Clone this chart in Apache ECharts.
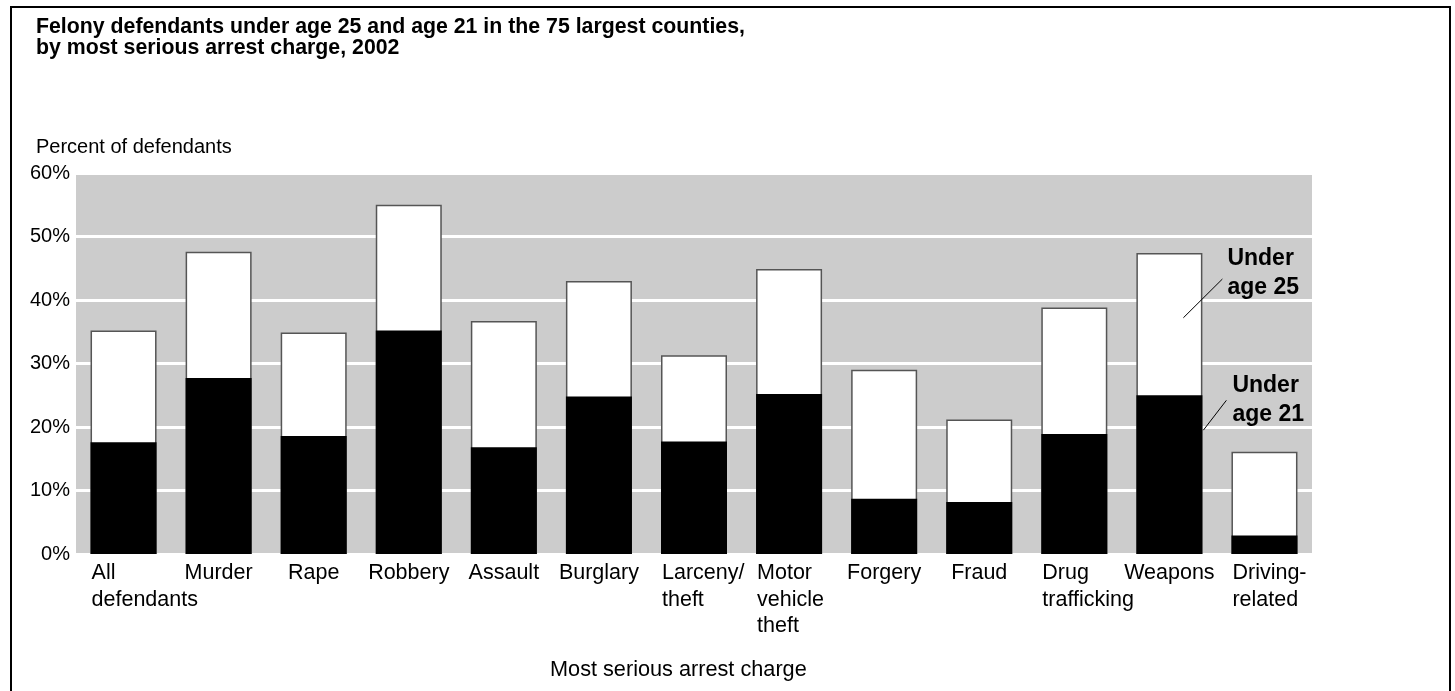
<!DOCTYPE html>
<html>
<head>
<meta charset="utf-8">
<script src="https://cdn.jsdelivr.net/npm/echarts@6/dist/echarts.min.js"></script>
<style>
html,body{margin:0;padding:0;background:#fff;}
#chart{width:1455px;height:691px;}
</style>
</head>
<body>
<div id="chart"></div>
<script>
const categories = ['All\ndefendants', 'Murder', 'Rape', 'Robbery', 'Assault', 'Burglary', 'Larceny/\ntheft', 'Motor\nvehicle\ntheft', 'Forgery', 'Fraud', 'Drug\ntrafficking', 'Weapons', 'Driving-\nrelated'];
const under25 = [35.2, 47.6, 34.9, 55.0, 36.7, 43.0, 31.3, 44.9, 29.0, 21.2, 38.8, 47.4, 16.1];
const under21 = [17.6, 27.7, 18.6, 35.2, 16.8, 24.8, 17.7, 25.2, 8.7, 8.2, 18.9, 25.0, 2.9];
const yTicks = [0, 10, 20, 30, 40, 50, 60];

const FONT = "'Liberation Sans', Arial, Helvetica, sans-serif";
const chart = echarts.init(document.getElementById('chart'), null, {renderer: 'canvas'});

const option = {
  animation: false,
  backgroundColor: '#ffffff',
  title: [
    {
      text: 'Felony defendants under age 25 and age 21 in the 75 largest counties,\nby most serious arrest charge, 2002',
      left: 31, top: 12,
      textStyle: {fontFamily: FONT, fontSize: 21.3, fontWeight: 'bold', color: '#000', lineHeight: 21}
    },
    {
      text: 'Percent of defendants',
      left: 31, top: 132,
      textStyle: {fontFamily: FONT, fontSize: 20, fontWeight: 'normal', color: '#000', lineHeight: 20}
    },
    {
      text: 'Most serious arrest charge',
      left: 545, top: 655,
      textStyle: {fontFamily: FONT, fontSize: 21.7, fontWeight: 'normal', color: '#000', lineHeight: 21}
    }
  ],
  grid: {
    left: 76, right: 143, top: 173, bottom: 137,
    show: true, backgroundColor: '#cccccc', borderWidth: 0
  },
  xAxis: {
    type: 'category',
    data: categories,
    axisLine: {show: false},
    axisTick: {show: false},
    axisLabel: {
      interval: 0,
      margin: 6,
      color: '#000',
      fontFamily: FONT,
      fontSize: 21.5,
      lineHeight: 26.5,
      verticalAlign: 'top',
      formatter: function (v) {
        if (v.indexOf('\n') < 0) return v;
        return v.split('\n').map(function (l) { return '{m|' + l + '}'; }).join('\n');
      },
      rich: {
        m: {width: 64, align: 'left', fontFamily: FONT, fontSize: 21.5, lineHeight: 26.5, color: '#000'}
      }
    }
  },
  yAxis: {
    type: 'value',
    min: yTicks[0], max: yTicks[yTicks.length - 1], interval: 10,
    axisLine: {show: false},
    axisTick: {show: false},
    axisLabel: {
      margin: 6,
      color: '#000',
      fontFamily: FONT,
      fontSize: 20,
      formatter: '{value}%'
    },
    splitLine: {show: true, lineStyle: {color: '#ffffff', width: 3}}
  },
  series: [
    {
      name: 'Under age 25',
      type: 'bar',
      data: under25,
      barWidth: 66,
      barGap: '-100%',
      itemStyle: {color: '#ffffff', borderColor: '#555555', borderWidth: 1.5}
    },
    {
      name: 'Under age 21',
      type: 'bar',
      data: under21,
      barWidth: 66,
      barGap: '-100%',
      itemStyle: {color: '#000000', borderWidth: 0}
    }
  ]
};
chart.setOption(option);

// Annotations anchored to the Weapons bar via the chart's scales
const wi = categories.indexOf('Weapons');
const px = function (val) { return chart.convertToPixel({xAxisIndex: 0, yAxisIndex: 0}, [wi, val]); };
const a25s = px(37.2), a25e = px(43.3);
const a21s = px(19.5), a21e = px(24.2);
chart.setOption({
  graphic: [
    {type: 'rect', z: 100, shape: {x: 11, y: 7, width: 1439, height: 720}, style: {fill: 'none', stroke: '#000', lineWidth: 2}, silent: true},
    {type: 'line', z: 100, shape: {x1: a25s[0] + 14, y1: a25s[1], x2: a25s[0] + 53, y2: a25e[1]}, style: {stroke: '#000', lineWidth: 1}},
    {type: 'line', z: 100, shape: {x1: a21s[0] + 34, y1: a21s[1], x2: a21s[0] + 57, y2: a21e[1]}, style: {stroke: '#000', lineWidth: 1}},
    {type: 'text', z: 100, x: a25s[0] + 58, y: 244.5, style: {text: 'Under\nage 25', font: 'bold 23px ' + FONT, fill: '#000', lineHeight: 28.5, textVerticalAlign: 'top'}},
    {type: 'text', z: 100, x: a25s[0] + 63, y: 371.5, style: {text: 'Under\nage 21', font: 'bold 23px ' + FONT, fill: '#000', lineHeight: 28.5, textVerticalAlign: 'top'}}
  ]
});
</script>
</body>
</html>
